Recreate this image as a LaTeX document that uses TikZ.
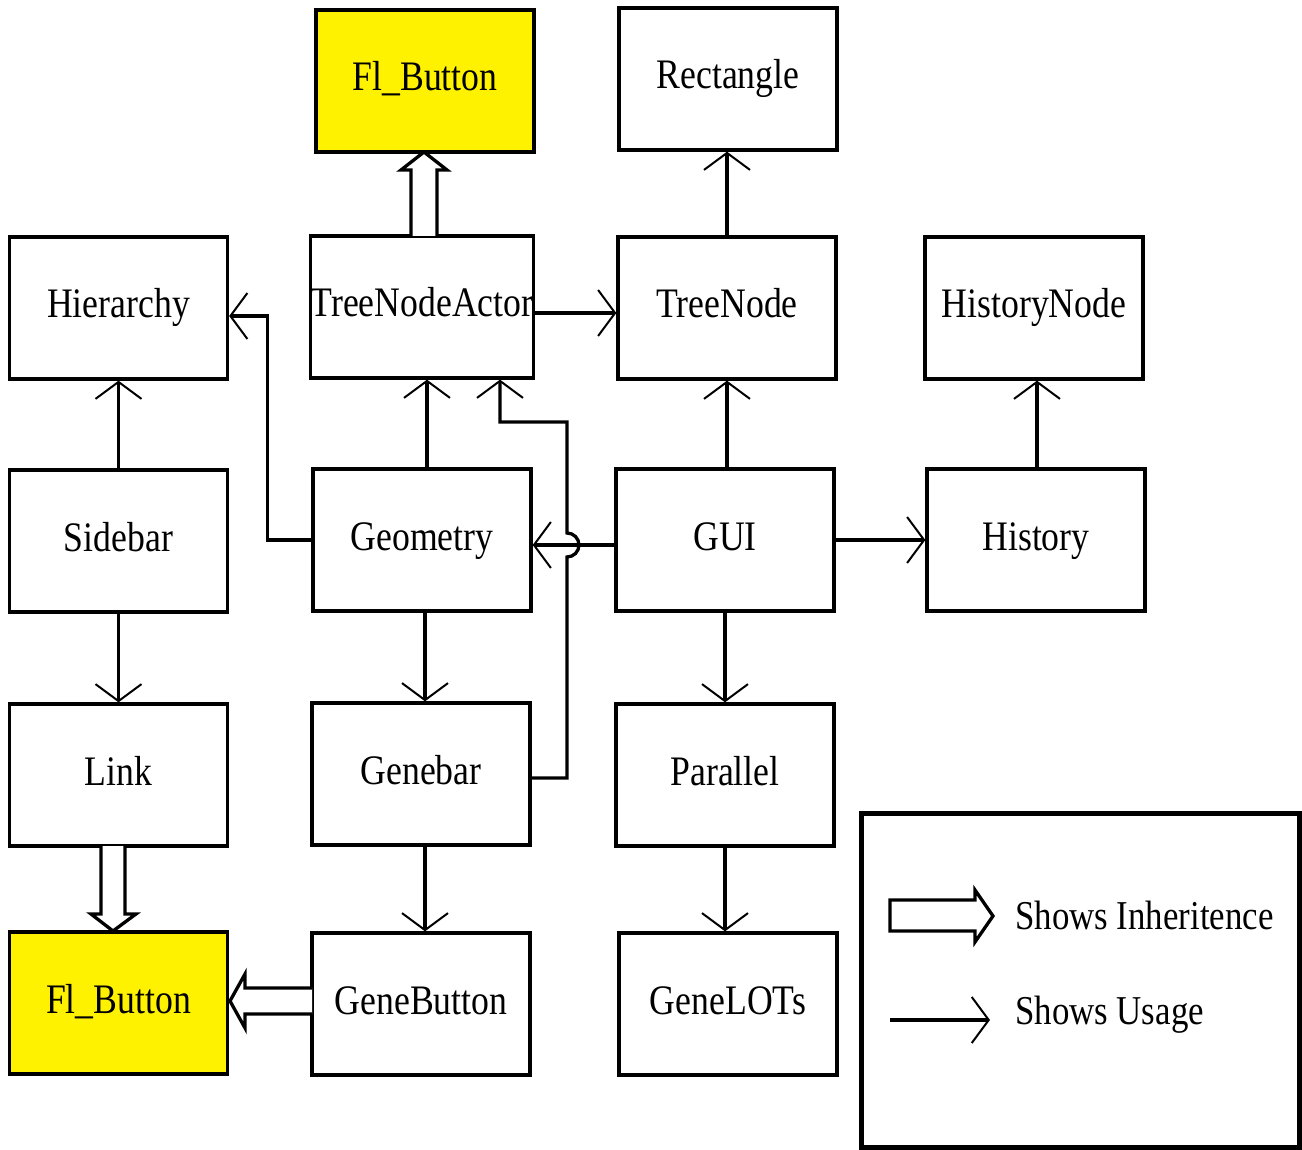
\documentclass[tikz,border=0pt]{standalone}
\usepackage{fontspec}
\setmainfont{Liberation Serif}[FakeStretch=0.85]
\usetikzlibrary{arrows.meta,calc}
\definecolor{flyellow}{RGB}{255,242,0}
\tikzset{
  box/.style={draw=black, line width=3.3pt, minimum width=218pt, minimum height=142pt, inner sep=0pt, text height=29pt, text depth=9pt, font=\fontsize{42}{44}\selectfont},
  yel/.style={box, fill=flyellow},
  use/.style={line width=3.3pt, -{Straight Barb[length=17pt, width=46pt, line width=2pt]}},
  inh/.style={line width=3.3pt, fill=white, line join=miter},
  lbl/.style={font=\fontsize{41}{44}\selectfont, anchor=west, inner sep=0pt}
}
\begin{document}
\begin{tikzpicture}[x=1pt, y=-1pt]
\useasboundingbox (0,0) rectangle (1302,1150);
% nodes
\node[yel] (fl1) at (425,81) {Fl\_Button};
\node[box] (rect) at (728,79) {Rectangle};
\node[box] (hier) at (118.5,308) {Hierarchy};
\node[box] (tna) at (422,307) {TreeNodeActor};
\node[box] (tn) at (727,308) {TreeNode};
\node[box] (hn) at (1034,308) {HistoryNode};
\node[box] (side) at (118.5,541) {Sidebar};
\node[box] (geo) at (422,540) {Geometry};
\node[box] (gui) at (725,540) {GUI};
\node[box] (hist) at (1036,540) {History};
\node[box] (link) at (118.5,775) {Link};
\node[box] (gb) at (421,774) {Genebar};
\node[box] (par) at (725,775) {Parallel};
\node[yel] (fl2) at (118.5,1003) {Fl\_Button};
\node[box] (gbtn) at (421,1004) {GeneButton};
\node[box] (glots) at (728,1004) {GeneLOTs};
\node[draw=black, line width=5pt, minimum width=438pt, minimum height=334pt, inner sep=0pt] (leg) at (1080,980) {};

% usage arrows
\coordinate (j1) at (567,778);
\coordinate (j2) at (567,557);
\coordinate (j3) at (567,422);
\coordinate (j4) at (500,422);
\draw[use] (tn.north) -- (tn.north |- rect.south);
\draw[use] ($(tna.east)+(0,6)$) -- ($(tn.west)+(0,5)$);
\draw[use] (geo.west) -- ++(-44,0) |- ($(hier.east)+(0,8)$);
\draw[use] (side.north) -- (hier.south);
\draw[use] ($(geo.north)+(5,0)$) -- ($(tna.south)+(5,0)$);
\draw[use] ($(gui.west)+(0,5)$) -- ($(geo.east)+(0,5)$);
\draw[use] (gb.east |- j1) -- (j1) -- (j2) arc[start angle=90, end angle=-90, radius=12] -- (j3) -- (j4) -- (j4 |- tna.south);
\draw[use] ($(gui.north)+(2,0)$) -- ($(tn.south)+(0,0)$);
\draw[use] (gui.east) -- (hist.west);
\draw[use] ($(hist.north)+(1,0)$) -- ($(hn.south)+(3,0)$);
\draw[use] (side.south) -- (link.north);
\draw[use] ($(geo.south)+(3,0)$) -- ($(gb.north)+(4,0)$);
\draw[use] (gui.south) -- (par.north);
\draw[use] ($(gb.south)+(4,0)$) -- ($(gbtn.north)+(4,0)$);
\draw[use] (par.south) -- (par.south |- glots.north);

% inheritance arrows
\coordinate (t1) at (424,152);
\draw[inh] (411,236) -- (411,170) -- (401,170) -- (t1) -- (447,170) -- (437,170) -- (437,236);
\coordinate (t2) at (113,931);
\draw[inh] (101,846) -- (101,914) -- (91,914) -- (t2) -- (136,914) -- (125,914) -- (125,846);
\coordinate (t3) at (230,1001);
\draw[inh] (312,988) -- (245,988) -- (245,974) -- (t3) -- (245,1028) -- (245,1014) -- (312,1014);

% legend
\draw[inh] (890,900) -- (975,900) -- (975,890) -- (993,916) -- (975,942) -- (975,931) -- (890,931) -- cycle;
\coordinate (ua) at (890,1020);
\coordinate (ub) at (990,1020);
\draw[use] (ua) -- (ub);
\node[lbl] (li) at (1015,915) {Shows Inheritence};
\node[lbl] (lu) at (1015,1015) {Shows Usage};
\end{tikzpicture}
\end{document}
